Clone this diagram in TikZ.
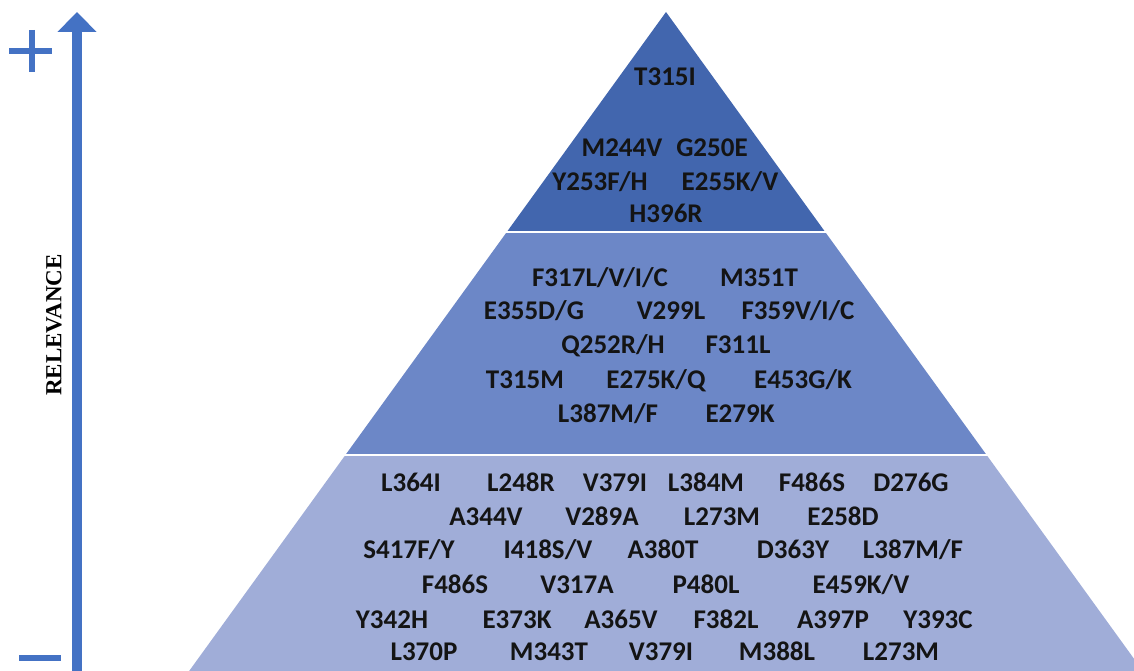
\documentclass[tikz,border=0pt]{standalone}
\usepackage{fontspec}
\newfontfamily\carlito{Carlito}
\newfontfamily\serifface{Liberation Serif}
\usetikzlibrary{arrows.meta}
\definecolor{tierA}{RGB}{66,102,174}
\definecolor{tierB}{RGB}{108,135,199}
\definecolor{tierC}{RGB}{160,173,216}
\definecolor{axisblue}{RGB}{68,114,196}
\begin{document}
\begin{tikzpicture}[x=1pt,y=-1pt,
  mut/.style={anchor=base,inner sep=0pt,text=black!92,
    font=\carlito\bfseries\fontsize{27}{27}\selectfont},
  signbar/.style={draw=axisblue,line width=6pt},
  relaxis/.style={draw=axisblue,line width=10pt,
    -{Triangle[width=38pt,length=20pt]}},
  separator/.style={draw=white,line width=2pt}]
\useasboundingbox (0,0) rectangle (1134,671);

% pyramid tiers
\begin{scope}
  \clip (0,0) rectangle (1134,671);
  \fill[tierA] (666,12) -- (825.2,232) -- (506.8,232) -- cycle;
  \fill[tierB] (506.8,232) -- (825.2,232) -- (986.6,455) -- (345.4,455) -- cycle;
  \fill[tierC] (345.4,455) -- (986.6,455) -- (1156.6,690) -- (175.4,690) -- cycle;
  \draw[separator] (500,232) -- (832,232);
  \draw[separator] (338,455) -- (994,455);
\end{scope}

% relevance axis
\coordinate (axisfoot) at (77,690);
\coordinate (axistop) at (77,12);
\draw[relaxis] (axisfoot) -- (axistop);
\draw[signbar] (9,51) -- (52,51);
\draw[signbar] (32,30) -- (32,72);
\draw[signbar] (19,658) -- (61,658);
\node[rotate=90,inner sep=0pt,font=\serifface\bfseries\fontsize{23}{23}\selectfont]
  (relevance) at (54,325) {RELEVANCE};

% top tier
\node[mut] (t1) at (665,86) {T315I};
\node[mut] (t2) at (622,157) {M244V};
\node[mut] (t3) at (712,157) {G250E};
\node[mut] (t4) at (600,190) {Y253F/H};
\node[mut] (t5) at (730,190) {E255K/V};
\node[mut] (t6) at (666,222) {H396R};

% middle tier
\node[mut] (m1) at (600,286) {F317L/V/I/C};
\node[mut] (m2) at (759,286) {M351T};
\node[mut] (m3) at (534,319) {E355D/G};
\node[mut] (m4) at (671,319) {V299L};
\node[mut] (m5) at (798,319) {F359V/I/C};
\node[mut] (m6) at (613,353) {Q252R/H};
\node[mut] (m7) at (738,353) {F311L};
\node[mut] (m8) at (525,388) {T315M};
\node[mut] (m9) at (656,388) {E275K/Q};
\node[mut] (m10) at (803,388) {E453G/K};
\node[mut] (m11) at (608,422) {L387M/F};
\node[mut] (m12) at (740,422) {E279K};

% bottom tier
\node[mut] (b1) at (411,491) {L364I};
\node[mut] (b2) at (521,491) {L248R};
\node[mut] (b3) at (615,491) {V379I};
\node[mut] (b4) at (706,491) {L384M};
\node[mut] (b5) at (812,491) {F486S};
\node[mut] (b6) at (911,491) {D276G};
\node[mut] (b7) at (486,525) {A344V};
\node[mut] (b8) at (602,525) {V289A};
\node[mut] (b9) at (722,525) {L273M};
\node[mut] (b10) at (843,525) {E258D};
\node[mut] (b11) at (409,558) {S417F/Y};
\node[mut] (b12) at (548,558) {I418S/V};
\node[mut] (b13) at (663,558) {A380T};
\node[mut] (b14) at (793,558) {D363Y};
\node[mut] (b15) at (913,558) {L387M/F};
\node[mut] (b16) at (455,593) {F486S};
\node[mut] (b17) at (577,593) {V317A};
\node[mut] (b18) at (706,593) {P480L};
\node[mut] (b19) at (861,593) {E459K/V};
\node[mut] (b20) at (392,628) {Y342H};
\node[mut] (b21) at (517,628) {E373K};
\node[mut] (b22) at (621,628) {A365V};
\node[mut] (b23) at (726,628) {F382L};
\node[mut] (b24) at (833,628) {A397P};
\node[mut] (b25) at (938,628) {Y393C};
\node[mut] (b26) at (424,660) {L370P};
\node[mut] (b27) at (549,660) {M343T};
\node[mut] (b28) at (661,660) {V379I};
\node[mut] (b29) at (777,660) {M388L};
\node[mut] (b30) at (901,660) {L273M};
\end{tikzpicture}
\end{document}
